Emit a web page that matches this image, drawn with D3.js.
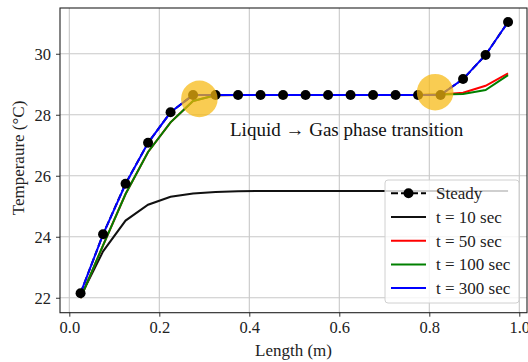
<!DOCTYPE html>
<html>
<head>
<meta charset="utf-8">
<script src="https://cdn.jsdelivr.net/npm/d3@7"></script>
<style>
  html, body { margin: 0; padding: 0; background: white; }
  svg { display: block; font-family: 'Liberation Serif', 'Times New Roman', serif; }
</style>
</head>
<body>
<div id="chart-container"></div>
<script>
// positions along the pipe (m)
const lengths = [0.025, 0.075, 0.125, 0.175, 0.225, 0.275, 0.325, 0.375, 0.425, 0.475,
  0.525, 0.575, 0.625, 0.675, 0.725, 0.775, 0.825, 0.875, 0.925, 0.975]

const steady = [22.15, 24.08, 25.74, 27.08, 28.08, 28.65, 28.65, 28.65, 28.65, 28.65,
  28.65, 28.65, 28.65, 28.65, 28.65, 28.65, 28.65, 29.17, 29.96, 31.04]
const t10 = [22.04, 23.52, 24.53, 25.05, 25.31, 25.42, 25.47, 25.49, 25.5, 25.5,
  25.5, 25.5, 25.5, 25.5, 25.5, 25.5, 25.5, 25.5, 25.5, 25.5]
const t50 = [21.99, 23.72, 25.4, 26.78, 27.75, 28.45, 28.64, 28.65, 28.65, 28.65,
  28.65, 28.65, 28.65, 28.65, 28.65, 28.65, 28.66, 28.72, 28.95, 29.36]
const t100 = [21.99, 23.72, 25.4, 26.78, 27.75, 28.45, 28.64, 28.65, 28.65, 28.65,
  28.65, 28.65, 28.65, 28.65, 28.65, 28.65, 28.66, 28.68, 28.81, 29.3]
const t300 = [22.15, 24.08, 25.73, 27.08, 28.08, 28.65, 28.65, 28.65, 28.65, 28.65,
  28.65, 28.65, 28.65, 28.65, 28.65, 28.65, 28.65, 29.17, 29.96, 31.04]

const xTicks = [0.0, 0.2, 0.4, 0.6, 0.8, 1.0]
const yTicks = [22, 24, 26, 28, 30]

// highlighted phase-change spots [length, temperature]
const highlights = [[0.289, 28.52], [0.813, 28.74]]

const legendLabels = ['Steady', 't = 10 sec', 't = 50 sec', 't = 100 sec', 't = 300 sec']
const seriesColors = ['black', '#111', 'red', 'green', 'blue']

const width = 528
const height = 362
const margin = { top: 8, right: 1, bottom: 49.3, left: 60 }

const svg = d3.select('#chart-container')
  .append('svg')
  .attr('width', width)
  .attr('height', height)

const x = d3.scaleLinear()
  .domain([-0.0207, 1.0171])
  .range([margin.left, width - margin.right])

const y = d3.scaleLinear()
  .domain([21.51, 31.5])
  .range([height - margin.bottom, margin.top])

// grid
svg.append('g')
  .selectAll('line')
  .data(xTicks)
  .join('line')
  .attr('x1', d => x(d)).attr('x2', d => x(d))
  .attr('y1', margin.top).attr('y2', height - margin.bottom)
  .attr('stroke', '#c8c8c8').attr('stroke-width', 1.1)

svg.append('g')
  .selectAll('line')
  .data(yTicks)
  .join('line')
  .attr('y1', d => y(d)).attr('y2', d => y(d))
  .attr('x1', margin.left).attr('x2', width - margin.right)
  .attr('stroke', '#c8c8c8').attr('stroke-width', 1.1)

// axes
const xAxis = svg.append('g')
  .attr('transform', `translate(0,${height - margin.bottom})`)
  .call(d3.axisBottom(x).tickValues(xTicks).tickFormat(d3.format('.1f')).tickSize(4).tickPadding(5))
const yAxis = svg.append('g')
  .attr('transform', `translate(${margin.left},0)`)
  .call(d3.axisLeft(y).tickValues(yTicks).tickSize(4).tickPadding(5))

;[xAxis, yAxis].forEach(a => {
  a.select('.domain').remove()
  a.selectAll('text')
    .attr('font-family', "'Liberation Serif', serif")
    .attr('font-size', 16.5)
    .attr('fill', '#222')
  a.selectAll('line').attr('stroke', '#333')
})

// frame
svg.append('rect')
  .attr('x', margin.left).attr('y', margin.top)
  .attr('width', width - margin.left - margin.right)
  .attr('height', height - margin.top - margin.bottom)
  .attr('fill', 'none')
  .attr('stroke', '#222')
  .attr('stroke-width', 1.1)

// axis labels
svg.append('text')
  .attr('x', (margin.left + width - margin.right) / 2)
  .attr('y', 356)
  .attr('text-anchor', 'middle')
  .attr('font-size', 17)
  .attr('fill', '#222')
  .text('Length (m)')

svg.append('text')
  .attr('transform', 'translate(23.5,158) rotate(-90)')
  .attr('text-anchor', 'middle')
  .attr('font-size', 17)
  .attr('fill', '#222')
  .text('Temperaure (°C)')

const line = d3.line()
  .x((d, i) => x(lengths[i]))
  .y(d => y(d))

const series = [steady, t10, t50, t100, t300]

// steady dashed line underneath
svg.append('path')
  .attr('d', line(steady))
  .attr('fill', 'none')
  .attr('stroke', 'black')
  .attr('stroke-width', 2)
  .attr('stroke-dasharray', '7,3')

series.slice(1).forEach((s, i) => {
  svg.append('path')
    .attr('d', line(s))
    .attr('fill', 'none')
    .attr('stroke', seriesColors[i + 1])
    .attr('stroke-width', 2)
})

svg.append('g')
  .selectAll('circle')
  .data(steady)
  .join('circle')
  .attr('cx', (d, i) => x(lengths[i]))
  .attr('cy', d => y(d))
  .attr('r', 5)
  .attr('fill', 'black')

// highlight circles
svg.append('g')
  .selectAll('circle')
  .data(highlights)
  .join('circle')
  .attr('cx', d => x(d[0]))
  .attr('cy', d => y(d[1]))
  .attr('r', 18.3)
  .attr('fill', '#f7b90f')
  .attr('fill-opacity', 0.72)

svg.append('text')
  .attr('x', 230)
  .attr('y', 136)
  .attr('font-size', 19)
  .attr('fill', '#111')
  .text('Liquid \u2192 Gas phase transition')

// legend
const legend = svg.append('g')
legend.append('rect')
  .attr('x', 385).attr('y', 180)
  .attr('width', 134).attr('height', 123)
  .attr('rx', 3)
  .attr('fill', 'white')
  .attr('fill-opacity', 0.8)
  .attr('stroke', '#d0d0d0')

const legendRows = legend.selectAll('g')
  .data(legendLabels)
  .join('g')
  .attr('transform', (d, i) => `translate(0,${193.3 + i * 23.7})`)

legendRows.append('line')
  .attr('x1', 391).attr('x2', 426)
  .attr('stroke', (d, i) => seriesColors[i])
  .attr('stroke-width', 2)
  .attr('stroke-dasharray', (d, i) => (i === 0 ? '7,3' : null))

legendRows.filter((d, i) => i === 0)
  .append('circle')
  .attr('cx', 408.5)
  .attr('r', 5)
  .attr('fill', 'black')

legendRows.append('text')
  .attr('x', 436)
  .attr('dy', '0.35em')
  .attr('font-size', 17)
  .attr('fill', '#222')
  .text(d => d)
</script>
</body>
</html>
